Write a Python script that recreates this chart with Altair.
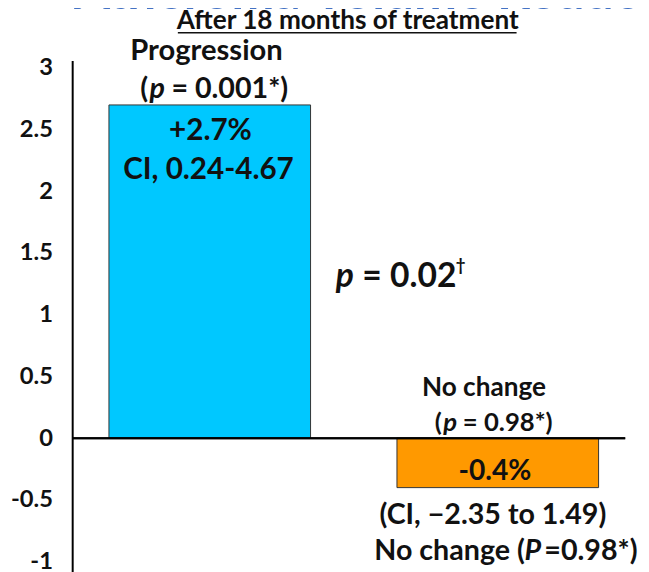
import altair as alt
import pandas as pd

# ---- data ----
categories = ["Progression", "No change"]
values = [2.7, -0.4]
bar_colors = ["#00C8FF", "#FF9900"]
pct_labels = ["+2.7%", "-0.4%"]
ci_labels = ["CI, 0.24-4.67", "(CI, \u22122.35 to 1.49)"]
tick_values = [3, 2.5, 2, 1.5, 1, 0.5, 0, -0.5, -1]
title_text = "Atheroma Volume Reduction"
subtitle_text = "After 18 months of treatment"

FONT = "Lato"
INK = "#111111"

# plot area placement (page coordinates of plot top-left)
PX0, PY0 = 73, 57.5
W, H = 560, 532.5

# approximate advance widths (em) of Lato Bold, used only to chain mixed-style pieces
EM = {"(": .33, ")": .33, "p": .57, "P": .62, " ": .19, "=": .58, ".": .24,
      "*": .41, "N": .75, "o": .57, "c": .46, "h": .57, "a": .51, "n": .57,
      "g": .51, "e": .53}


def text_w(s, size):
    return sum(EM.get(ch, .56) for ch in s) * size


bars = pd.DataFrame({"cat": categories, "value": values, "color": bar_colors})

bar_layer = alt.Chart(bars).mark_bar(stroke="#333333", strokeWidth=1).encode(
    x=alt.X("cat:N", sort=categories, axis=None,
            scale=alt.Scale(paddingInner=0.30, paddingOuter=0.11, align=0.58, round=False)),
    y=alt.Y("value:Q",
            scale=alt.Scale(domain=[-1.2, 3.06], nice=False, zero=False),
            axis=alt.Axis(values=tick_values, labelExpr="toString(datum.value)",
                          title=None, grid=False, ticks=False,
                          domainColor="black", domainWidth=2,
                          labelFont=FONT, labelFontSize=24, labelFontWeight="bold",
                          labelColor=INK, labelPadding=20, labelOverlap=False,
                          labelBound=False)),
    color=alt.Color("color:N", scale=None),
)

zero_rule = alt.Chart(bars).mark_rule(color="black", strokeWidth=2).encode(y=alt.datum(0))

# annotation layout: (text, page_x, page_baseline_y, size, italic, align, color)
ann = [
    (title_text, 75, 5, 52, False, "left", "#4472C4"),
    (subtitle_text, 352, 26, 26.5, False, "center", INK),
    ("Progression", 209, 57, 29.5, False, "center", INK),
    (pct_labels[0], 213, 138, 30, False, "center", INK),
    (ci_labels[0], 211, 177, 30, False, "center", INK),
    ("No change", 490, 397, 26.5, False, "center", INK),
    (pct_labels[1], 501, 482, 28.5, False, "center", INK),
    (ci_labels[1], 499, 527, 29, False, "center", INK),
]


def chain(pieces, x_left, y, size, gap=0.0):
    """Place pieces left to right; leading spaces become an x advance."""
    out = []
    x = x_left
    for s, it in pieces:
        stripped = s.lstrip(" ")
        x += text_w(s[: len(s) - len(stripped)], size)
        out.append((stripped, x, y, size, it, "left", INK))
        x += text_w(stripped, size) + gap
    return out, x


def chain_centered(pieces, cx, y, size, gap=0.0):
    total = sum(text_w(s, size) for s, _ in pieces) + gap * (len(pieces) - 1)
    return chain(pieces, cx - total / 2, y, size, gap)[0]


ann += chain_centered([("(", False), ("p", True), (" = 0.001*)", False)], 215.5, 95, 29)
ann += chain_centered([("(", False), ("p", True), (" = 0.98*)", False)], 499, 433, 26)
ann += chain_centered([("No change (", False), ("P", True), ("=0.98*)", False)], 512, 563, 29, gap=2)
pv, x_end = chain([("p", True), (" = 0.02", False)], 340, 287, 34, gap=1)
ann += pv
ann.append(("\u2020", x_end + 2, 271, 17, False, "left", INK))

layers = [bar_layer, zero_rule]
for txt, x, y, size, italic, align, col in ann:
    kw = dict(font=FONT, fontSize=size, fontWeight="bold", align=align,
              baseline="alphabetic", color=col)
    if italic:
        kw["fontStyle"] = "italic"
    layers.append(
        alt.Chart(pd.DataFrame({"t": [txt]})).mark_text(**kw).encode(
            text="t:N", x=alt.value(x - PX0), y=alt.value(y - PY0))
    )

# underline of subtitle
layers.append(
    alt.Chart(pd.DataFrame({"t": [subtitle_text]})).mark_rule(color=INK, strokeWidth=1.5).encode(
        x=alt.value(180 - PX0), x2=alt.value(523 - PX0), y=alt.value(29.5 - PY0))
)

chart = alt.layer(*layers).properties(
    width=W, height=H,
    padding={"left": PX0 - 8, "top": PY0 - 8, "right": 649 - 8 - (PX0 - 8) - W, "bottom": 0},
    autosize=alt.AutoSizeParams(type="none"),
    background="white",
).configure_view(stroke=None)

chart.save("out.html", embed_options={"renderer": "svg", "actions": False})
